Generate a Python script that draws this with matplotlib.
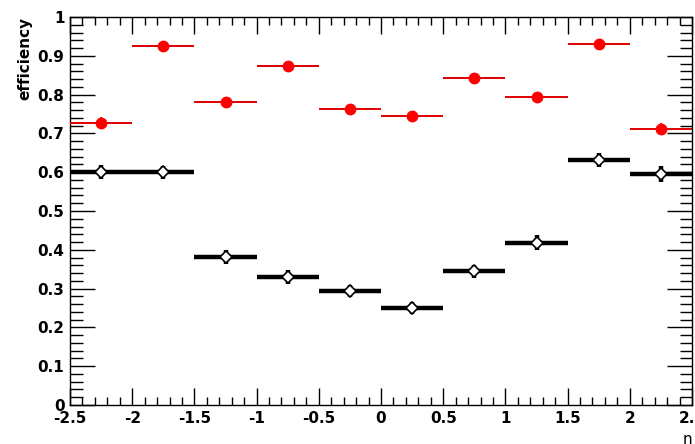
import matplotlib
matplotlib.use("Agg")
import matplotlib.pyplot as plt
from matplotlib.ticker import MultipleLocator
import numpy as np

# ── data ─────────────────────────────────────────────────────────────────────
eta_centers = [-2.25, -1.75, -1.25, -0.75, -0.25, 0.25, 0.75, 1.25, 1.75, 2.25]
bin_halfwidth = [0.25] * 10

eff_red = [0.727, 0.925, 0.781, 0.874, 0.763, 0.745, 0.843, 0.794, 0.930, 0.711]
err_red = [0.015, 0.010, 0.013, 0.011, 0.013, 0.013, 0.012, 0.013, 0.010, 0.016]

eff_black = [0.600, 0.600, 0.381, 0.330, 0.294, 0.250, 0.345, 0.418, 0.631, 0.595]
err_black = [0.018, 0.017, 0.018, 0.017, 0.016, 0.015, 0.017, 0.019, 0.018, 0.020]

plt.rcParams.update({
    "font.family": ["DejaVu Sans"],
    "font.weight": "bold",
})

fig = plt.figure(figsize=(6.95, 4.44), dpi=100)
ax = fig.add_axes([70 / 695, 39 / 444, 622 / 695, 388 / 444])

# red: filled circles, thin horizontal bars
ax.errorbar(eta_centers, eff_red, xerr=bin_halfwidth, yerr=err_red,
            fmt="o", color="#ff0000", ecolor="#e00000", elinewidth=1.4,
            markersize=7.5, capsize=0, clip_on=False, zorder=3)

# black: open diamonds, thick bars
ax.errorbar(eta_centers, eff_black, xerr=bin_halfwidth, yerr=err_black,
            fmt="D", color="black", ecolor="black", elinewidth=3.2,
            markersize=6, markerfacecolor="white", markeredgewidth=1.2,
            capsize=0, clip_on=False, zorder=3)

ax.set_xlim(-2.5, 2.5)
ax.set_ylim(0, 1)

ax.xaxis.set_major_locator(MultipleLocator(0.5))
ax.xaxis.set_minor_locator(MultipleLocator(0.1))
ax.yaxis.set_major_locator(MultipleLocator(0.1))
ax.yaxis.set_minor_locator(MultipleLocator(0.02))

ax.tick_params(which="both", direction="in", top=True, right=True,
               labelsize=11, width=1.0, pad=4)
ax.tick_params(axis="x", which="major", length=12)
ax.tick_params(axis="x", which="minor", length=6)
ax.tick_params(axis="y", which="major", length=18)
ax.tick_params(axis="y", which="minor", length=9)

ax.set_xticklabels([f"{v:g}" for v in ax.get_xticks()])
ax.set_yticklabels([f"{v:g}" for v in ax.get_yticks()])

for s in ax.spines.values():
    s.set_linewidth(1.0)

ax.set_ylabel("efficiency", fontsize=11, fontweight="bold", loc="top",
              labelpad=4)
ax.text(1.0, -0.07, "η", transform=ax.transAxes, ha="right", va="top",
        fontsize=11, fontweight="normal")

fig.savefig("out.png", dpi=100)
